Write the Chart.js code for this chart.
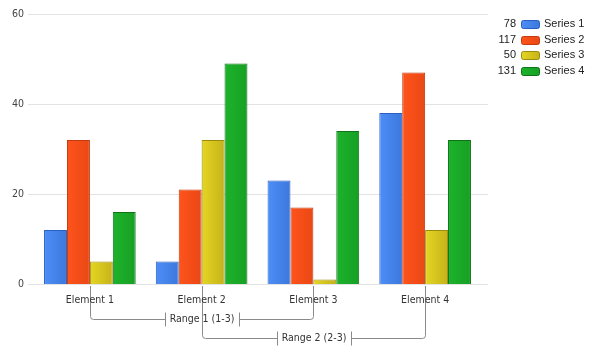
<!DOCTYPE html>
<html lang="en">
<head>
    <meta charset="UTF-8">
    <title>Grouped bars with ranges</title>
    <script src="https://cdn.jsdelivr.net/npm/chart.js@4.4.0/dist/chart.umd.min.js"></script>
    <style>
      body { margin: 0; background: #fff; }
    </style>
</head>
<body>
  <canvas id="chart" width="592" height="354"></canvas>

  <script>
    /* Data. */
    const categories = ["Element 1", "Element 2", "Element 3", "Element 4"]
    const seriesNames = ["Series 1", "Series 2", "Series 3", "Series 4"]
    const series1 = [12, 5, 23, 38]
    const series2 = [32, 21, 17, 47]
    const series3 = [5, 32, 1, 12]
    const series4 = [16, 49, 34, 32]
    const yTicks = [0, 20, 40, 60]

    /* Ranges drawn as brackets under the axis (category indexes). */
    const rangeLabels = ["Range 1 (1-3)", "Range 2 (2-3)"]
    const rangeFrom = [0, 1]
    const rangeTo = [2, 3]

    /* Fill: light left, dark right, then border colour. */
    const palette = [
      ["#4d8ef7", "#3c78dc", "#2a5ec4"],
      ["#ff531c", "#e94814", "#c23a0e"],
      ["#e4d622", "#c6b21a", "#9c8a0e"],
      ["#1db22b", "#17a024", "#0e7319"]
    ]

    const allSeries = [series1, series2, series3, series4]
    const catPct = 0.82
    const axisFont = "'DejaVu Sans Condensed', 'DejaVu Sans'"

    function barFill(i) {
      return function(ctx) {
        const chart = ctx.chart
        const xs = chart.scales.x
        if (!xs || ctx.dataIndex === undefined) return palette[i][0]
        const center = xs.getPixelForValue(ctx.dataIndex)
        const w = (xs.width / categories.length) * catPct / allSeries.length
        const left = center - w * allSeries.length / 2 + i * w
        if (!isFinite(left) || !isFinite(w) || w <= 0) return palette[i][0]
        const g = chart.ctx.createLinearGradient(left, 0, left + w, 0)
        g.addColorStop(0, palette[i][0])
        g.addColorStop(1, palette[i][1])
        return g
      }
    }

    /* Gridlines, brackets and legend drawn around the chart. */
    const extras = {
      id: "extras",
      beforeDraw(chart) {
        const c = chart.ctx
        const area = chart.chartArea
        const ys = chart.scales.y
        const xs = chart.scales.x
        c.save()
        c.fillStyle = "#fff"
        c.fillRect(0, 0, chart.width, chart.height)

        /* horizontal gridlines */
        c.strokeStyle = "#e3e3e3"
        c.lineWidth = 1
        yTicks.forEach(v => {
          const y = Math.round(ys.getPixelForValue(v)) + 0.5
          c.beginPath()
          c.moveTo(area.left - 6, y)
          c.lineTo(area.right + 7, y)
          c.stroke()
        })

        /* range brackets */
        c.strokeStyle = "#8a8a8a"
        c.fillStyle = "#333"
        c.font = "10.5px " + axisFont
        c.textAlign = "center"
        c.textBaseline = "middle"
        rangeLabels.forEach((label, r) => {
          const x1 = Math.round(xs.getPixelForValue(rangeFrom[r])) + 0.5
          const x2 = Math.round(xs.getPixelForValue(rangeTo[r])) + 0.5
          const y = Math.round(area.bottom + 35 + r * 19) + 0.5
          const top = area.bottom + 2
          const cx = (x1 + x2) / 2
          const tw = c.measureText(label).width
          const a = Math.round(cx - tw / 2 - 5) + 0.5
          const b = Math.round(cx + tw / 2 + 5) + 0.5
          c.beginPath()
          c.moveTo(x1, top)
          c.lineTo(x1, y - 3)
          c.quadraticCurveTo(x1, y, x1 + 3, y)
          c.lineTo(a, y)
          c.moveTo(a, y - 7)
          c.lineTo(a, y + 7)
          c.moveTo(b, y - 7)
          c.lineTo(b, y + 7)
          c.moveTo(b, y)
          c.lineTo(x2 - 3, y)
          c.quadraticCurveTo(x2, y, x2, y - 3)
          c.lineTo(x2, top)
          c.stroke()
          c.fillText(label, cx, y)
        })
        c.restore()
      },
      afterDraw(chart) {
        const c = chart.ctx
        c.save()
        c.font = "11px 'Liberation Sans'"
        c.textBaseline = "middle"
        allSeries.forEach((s, i) => {
          const y = 24 + i * 15.6
          const total = s.reduce((a, b) => a + b, 0)
          c.fillStyle = "#222"
          c.textAlign = "right"
          c.fillText(String(total), 516, y)
          c.textAlign = "left"
          c.fillText(seriesNames[i], 544, y)
          const g = c.createLinearGradient(521, 0, 540, 0)
          g.addColorStop(0, palette[i][0])
          g.addColorStop(1, palette[i][1])
          c.fillStyle = g
          c.strokeStyle = palette[i][2]
          c.beginPath()
          c.roundRect(521.5, Math.round(y - 4) + 0.5, 18, 8, 2)
          c.fill()
          c.stroke()
        })
        c.restore()
      }
    }

    const ctx = document.getElementById("chart").getContext("2d")
    const myChart = new Chart(ctx, {
      type: "bar",
      data: {
        labels: categories,
        datasets: allSeries.map((s, i) => ({
          label: seriesNames[i],
          data: s,
          backgroundColor: barFill(i),
          borderColor: palette[i][2],
          borderWidth: 1,
          barPercentage: 1,
          categoryPercentage: catPct
        }))
      },
      plugins: [extras],
      options: {
        responsive: false,
        animation: false,
        layout: { padding: { top: 14, right: 111, left: 0, bottom: 0 } },
        plugins: {
          legend: { display: false },
          tooltip: { enabled: false }
        },
        scales: {
          x: {
            grid: { display: false },
            border: { display: false },
            ticks: { color: "#333", font: { family: axisFont, size: 10.5 }, padding: 2 },
            afterFit: s => { s.height = 70 }
          },
          y: {
            min: 0,
            max: 60,
            grid: { display: false },
            border: { display: false },
            ticks: {
              stepSize: 20,
              color: "#444",
              padding: 2,
              font: { family: axisFont, size: 10.5 }
            },
            afterFit: s => { s.width = 34 }
          }
        }
      }
    })
  </script>
</body>
</html>
